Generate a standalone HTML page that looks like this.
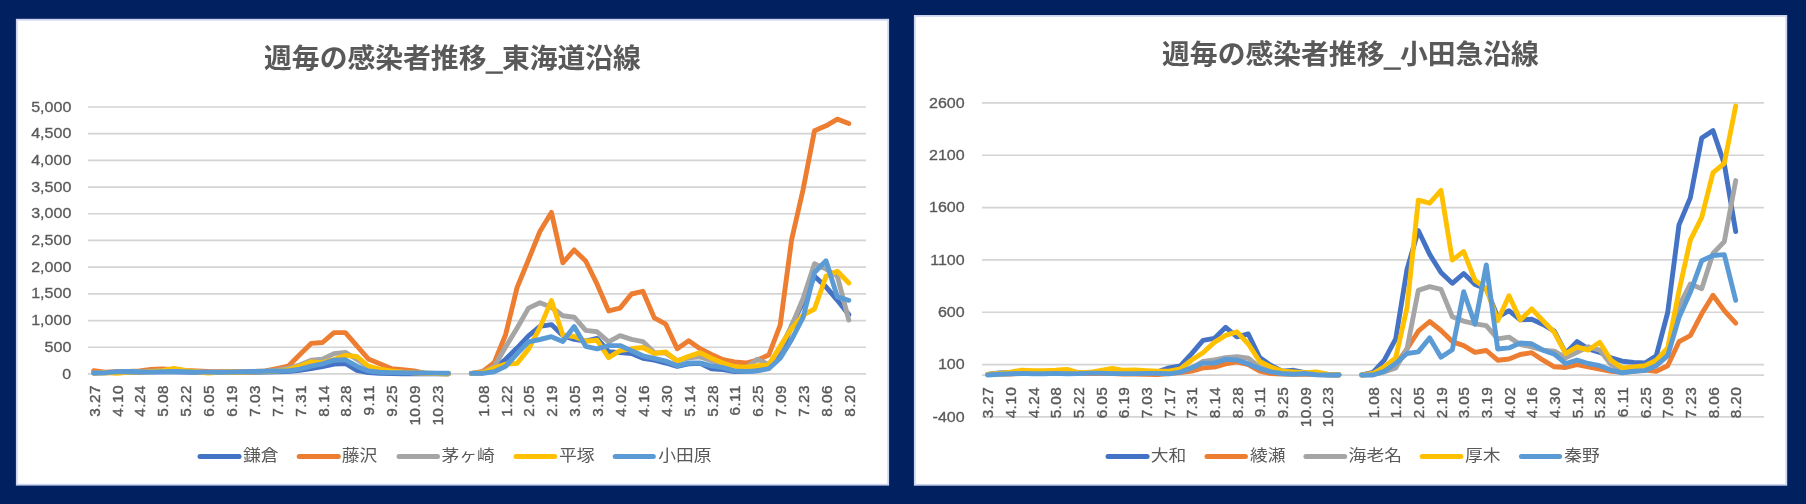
<!DOCTYPE html>
<html lang="ja"><head><meta charset="utf-8"><title>週毎の感染者推移</title>
<style>
html,body{margin:0;padding:0;background:#002060;}
body{width:1806px;height:504px;overflow:hidden;}
svg{display:block;will-change:transform;}
.jp{font-family:"Liberation Sans","Noto Sans CJK JP",sans-serif;}
.num{font-family:"Liberation Sans","Noto Sans CJK JP",sans-serif;}
</style></head><body>
<svg width="1806" height="504" viewBox="0 0 1806 504">
<rect width="1806" height="504" fill="#002060"/>
<rect x="16.80" y="19.70" width="871.40" height="465.00" fill="#fff" stroke="#cdd4ef" stroke-width="1.8"/>
<text x="452.5" y="68" text-anchor="middle" font-size="27.8" font-weight="bold" fill="#595959" class="jp">週毎の感染者推移<tspan dy="1.7" stroke="#595959" stroke-width="1.3">_</tspan><tspan dy="-1.7">東海道沿線</tspan></text>
<line x1="88" x2="866" y1="373.95" y2="373.95" stroke="#D4D4D4" stroke-width="1.7"/>
<line x1="88" x2="866" y1="347.25" y2="347.25" stroke="#D4D4D4" stroke-width="1.7"/>
<line x1="88" x2="866" y1="320.56" y2="320.56" stroke="#D4D4D4" stroke-width="1.7"/>
<line x1="88" x2="866" y1="293.86" y2="293.86" stroke="#D4D4D4" stroke-width="1.7"/>
<line x1="88" x2="866" y1="267.16" y2="267.16" stroke="#D4D4D4" stroke-width="1.7"/>
<line x1="88" x2="866" y1="240.47" y2="240.47" stroke="#D4D4D4" stroke-width="1.7"/>
<line x1="88" x2="866" y1="213.77" y2="213.77" stroke="#D4D4D4" stroke-width="1.7"/>
<line x1="88" x2="866" y1="187.07" y2="187.07" stroke="#D4D4D4" stroke-width="1.7"/>
<line x1="88" x2="866" y1="160.37" y2="160.37" stroke="#D4D4D4" stroke-width="1.7"/>
<line x1="88" x2="866" y1="133.68" y2="133.68" stroke="#D4D4D4" stroke-width="1.7"/>
<line x1="88" x2="866" y1="106.98" y2="106.98" stroke="#D4D4D4" stroke-width="1.7"/>
<text transform="translate(71.3,378.55) scale(1.10,1)" text-anchor="end" font-size="14.6" fill="#595959" stroke="#595959" stroke-width="0.3" class="num">0</text>
<text transform="translate(71.3,351.85) scale(1.10,1)" text-anchor="end" font-size="14.6" fill="#595959" stroke="#595959" stroke-width="0.3" class="num">500</text>
<text transform="translate(71.3,325.16) scale(1.10,1)" text-anchor="end" font-size="14.6" fill="#595959" stroke="#595959" stroke-width="0.3" class="num">1,000</text>
<text transform="translate(71.3,298.46) scale(1.10,1)" text-anchor="end" font-size="14.6" fill="#595959" stroke="#595959" stroke-width="0.3" class="num">1,500</text>
<text transform="translate(71.3,271.76) scale(1.10,1)" text-anchor="end" font-size="14.6" fill="#595959" stroke="#595959" stroke-width="0.3" class="num">2,000</text>
<text transform="translate(71.3,245.06) scale(1.10,1)" text-anchor="end" font-size="14.6" fill="#595959" stroke="#595959" stroke-width="0.3" class="num">2,500</text>
<text transform="translate(71.3,218.37) scale(1.10,1)" text-anchor="end" font-size="14.6" fill="#595959" stroke="#595959" stroke-width="0.3" class="num">3,000</text>
<text transform="translate(71.3,191.67) scale(1.10,1)" text-anchor="end" font-size="14.6" fill="#595959" stroke="#595959" stroke-width="0.3" class="num">3,500</text>
<text transform="translate(71.3,164.97) scale(1.10,1)" text-anchor="end" font-size="14.6" fill="#595959" stroke="#595959" stroke-width="0.3" class="num">4,000</text>
<text transform="translate(71.3,138.28) scale(1.10,1)" text-anchor="end" font-size="14.6" fill="#595959" stroke="#595959" stroke-width="0.3" class="num">4,500</text>
<text transform="translate(71.3,111.58) scale(1.10,1)" text-anchor="end" font-size="14.6" fill="#595959" stroke="#595959" stroke-width="0.3" class="num">5,000</text>
<text transform="translate(99.72,385.1) rotate(-90)" text-anchor="end" font-size="15.4" letter-spacing="0.4" fill="#595959" stroke="#595959" stroke-width="0.4" class="num">3.27</text>
<text transform="translate(122.60,385.1) rotate(-90)" text-anchor="end" font-size="15.4" letter-spacing="0.4" fill="#595959" stroke="#595959" stroke-width="0.4" class="num">4.10</text>
<text transform="translate(145.49,385.1) rotate(-90)" text-anchor="end" font-size="15.4" letter-spacing="0.4" fill="#595959" stroke="#595959" stroke-width="0.4" class="num">4.24</text>
<text transform="translate(168.37,385.1) rotate(-90)" text-anchor="end" font-size="15.4" letter-spacing="0.4" fill="#595959" stroke="#595959" stroke-width="0.4" class="num">5.08</text>
<text transform="translate(191.25,385.1) rotate(-90)" text-anchor="end" font-size="15.4" letter-spacing="0.4" fill="#595959" stroke="#595959" stroke-width="0.4" class="num">5.22</text>
<text transform="translate(214.13,385.1) rotate(-90)" text-anchor="end" font-size="15.4" letter-spacing="0.4" fill="#595959" stroke="#595959" stroke-width="0.4" class="num">6.05</text>
<text transform="translate(237.01,385.1) rotate(-90)" text-anchor="end" font-size="15.4" letter-spacing="0.4" fill="#595959" stroke="#595959" stroke-width="0.4" class="num">6.19</text>
<text transform="translate(259.90,385.1) rotate(-90)" text-anchor="end" font-size="15.4" letter-spacing="0.4" fill="#595959" stroke="#595959" stroke-width="0.4" class="num">7.03</text>
<text transform="translate(282.78,385.1) rotate(-90)" text-anchor="end" font-size="15.4" letter-spacing="0.4" fill="#595959" stroke="#595959" stroke-width="0.4" class="num">7.17</text>
<text transform="translate(305.66,385.1) rotate(-90)" text-anchor="end" font-size="15.4" letter-spacing="0.4" fill="#595959" stroke="#595959" stroke-width="0.4" class="num">7.31</text>
<text transform="translate(328.54,385.1) rotate(-90)" text-anchor="end" font-size="15.4" letter-spacing="0.4" fill="#595959" stroke="#595959" stroke-width="0.4" class="num">8.14</text>
<text transform="translate(351.43,385.1) rotate(-90)" text-anchor="end" font-size="15.4" letter-spacing="0.4" fill="#595959" stroke="#595959" stroke-width="0.4" class="num">8.28</text>
<text transform="translate(374.31,385.1) rotate(-90)" text-anchor="end" font-size="15.4" letter-spacing="0.4" fill="#595959" stroke="#595959" stroke-width="0.4" class="num">9.11</text>
<text transform="translate(397.19,385.1) rotate(-90)" text-anchor="end" font-size="15.4" letter-spacing="0.4" fill="#595959" stroke="#595959" stroke-width="0.4" class="num">9.25</text>
<text transform="translate(420.07,385.1) rotate(-90)" text-anchor="end" font-size="15.4" letter-spacing="0.4" fill="#595959" stroke="#595959" stroke-width="0.4" class="num">10.09</text>
<text transform="translate(442.96,385.1) rotate(-90)" text-anchor="end" font-size="15.4" letter-spacing="0.4" fill="#595959" stroke="#595959" stroke-width="0.4" class="num">10.23</text>
<text transform="translate(488.72,385.1) rotate(-90)" text-anchor="end" font-size="15.4" letter-spacing="0.4" fill="#595959" stroke="#595959" stroke-width="0.4" class="num">1.08</text>
<text transform="translate(511.60,385.1) rotate(-90)" text-anchor="end" font-size="15.4" letter-spacing="0.4" fill="#595959" stroke="#595959" stroke-width="0.4" class="num">1.22</text>
<text transform="translate(534.49,385.1) rotate(-90)" text-anchor="end" font-size="15.4" letter-spacing="0.4" fill="#595959" stroke="#595959" stroke-width="0.4" class="num">2.05</text>
<text transform="translate(557.37,385.1) rotate(-90)" text-anchor="end" font-size="15.4" letter-spacing="0.4" fill="#595959" stroke="#595959" stroke-width="0.4" class="num">2.19</text>
<text transform="translate(580.25,385.1) rotate(-90)" text-anchor="end" font-size="15.4" letter-spacing="0.4" fill="#595959" stroke="#595959" stroke-width="0.4" class="num">3.05</text>
<text transform="translate(603.13,385.1) rotate(-90)" text-anchor="end" font-size="15.4" letter-spacing="0.4" fill="#595959" stroke="#595959" stroke-width="0.4" class="num">3.19</text>
<text transform="translate(626.01,385.1) rotate(-90)" text-anchor="end" font-size="15.4" letter-spacing="0.4" fill="#595959" stroke="#595959" stroke-width="0.4" class="num">4.02</text>
<text transform="translate(648.90,385.1) rotate(-90)" text-anchor="end" font-size="15.4" letter-spacing="0.4" fill="#595959" stroke="#595959" stroke-width="0.4" class="num">4.16</text>
<text transform="translate(671.78,385.1) rotate(-90)" text-anchor="end" font-size="15.4" letter-spacing="0.4" fill="#595959" stroke="#595959" stroke-width="0.4" class="num">4.30</text>
<text transform="translate(694.66,385.1) rotate(-90)" text-anchor="end" font-size="15.4" letter-spacing="0.4" fill="#595959" stroke="#595959" stroke-width="0.4" class="num">5.14</text>
<text transform="translate(717.54,385.1) rotate(-90)" text-anchor="end" font-size="15.4" letter-spacing="0.4" fill="#595959" stroke="#595959" stroke-width="0.4" class="num">5.28</text>
<text transform="translate(740.43,385.1) rotate(-90)" text-anchor="end" font-size="15.4" letter-spacing="0.4" fill="#595959" stroke="#595959" stroke-width="0.4" class="num">6.11</text>
<text transform="translate(763.31,385.1) rotate(-90)" text-anchor="end" font-size="15.4" letter-spacing="0.4" fill="#595959" stroke="#595959" stroke-width="0.4" class="num">6.25</text>
<text transform="translate(786.19,385.1) rotate(-90)" text-anchor="end" font-size="15.4" letter-spacing="0.4" fill="#595959" stroke="#595959" stroke-width="0.4" class="num">7.09</text>
<text transform="translate(809.07,385.1) rotate(-90)" text-anchor="end" font-size="15.4" letter-spacing="0.4" fill="#595959" stroke="#595959" stroke-width="0.4" class="num">7.23</text>
<text transform="translate(831.96,385.1) rotate(-90)" text-anchor="end" font-size="15.4" letter-spacing="0.4" fill="#595959" stroke="#595959" stroke-width="0.4" class="num">8.06</text>
<text transform="translate(854.84,385.1) rotate(-90)" text-anchor="end" font-size="15.4" letter-spacing="0.4" fill="#595959" stroke="#595959" stroke-width="0.4" class="num">8.20</text>
<polyline points="93.7,373.1 105.2,372.9 116.6,372.3 128.0,372.1 139.5,372.3 150.9,371.8 162.4,371.5 173.8,371.8 185.2,372.1 196.7,372.3 208.1,372.6 219.6,372.6 231.0,372.3 242.5,372.3 253.9,372.3 265.3,372.1 276.8,371.8 288.2,371.5 299.7,370.2 311.1,368.6 322.5,366.7 334.0,364.1 345.4,363.5 356.9,370.4 368.3,372.6 379.8,373.3 391.2,373.5 402.6,373.7 414.1,373.7 425.5,373.7 437.0,373.8 448.4,373.8" fill="none" stroke="#4472C4" stroke-width="4.9" stroke-linejoin="round" stroke-linecap="round"/>
<polyline points="471.3,373.4 482.7,373.0 494.2,368.7 505.6,359.3 517.0,348.1 528.5,335.8 539.9,326.4 551.4,324.6 562.8,335.6 574.2,339.4 585.7,341.2 597.1,338.4 608.6,351.6 620.0,352.6 631.5,353.5 642.9,358.3 654.3,360.1 665.8,363.0 677.2,366.4 688.7,363.9 700.1,363.4 711.5,368.7 723.0,369.6 734.4,371.5 745.9,371.5 757.3,370.5 768.8,367.7 780.2,355.3 791.6,325.9 803.1,301.9 814.5,276.3 826.0,286.9 837.4,300.3 848.8,314.6" fill="none" stroke="#4472C4" stroke-width="4.9" stroke-linejoin="round" stroke-linecap="round"/>
<polyline points="93.7,370.7 105.2,372.3 116.6,371.8 128.0,371.5 139.5,371.0 150.9,369.4 162.4,369.0 173.8,369.6 185.2,370.5 196.7,370.9 208.1,371.5 219.6,371.7 231.0,371.7 242.5,371.7 253.9,371.5 265.3,371.0 276.8,368.6 288.2,366.2 299.7,354.7 311.1,343.4 322.5,342.5 334.0,332.6 345.4,332.6 356.9,345.8 368.3,358.9 379.8,363.8 391.2,368.6 402.6,369.7 414.1,371.0 425.5,373.4 437.0,373.5 448.4,373.7" fill="none" stroke="#ED7D31" stroke-width="4.9" stroke-linejoin="round" stroke-linecap="round"/>
<polyline points="471.3,373.4 482.7,371.5 494.2,362.6 505.6,334.7 517.0,287.8 528.5,259.7 539.9,231.5 551.4,212.4 562.8,262.8 574.2,249.9 585.7,261.0 597.1,284.2 608.6,310.9 620.0,308.1 631.5,294.0 642.9,291.3 654.3,317.9 665.8,324.2 677.2,348.8 688.7,340.7 700.1,348.8 711.5,354.5 723.0,359.7 734.4,362.0 745.9,363.0 757.3,360.1 768.8,355.0 780.2,325.1 791.6,239.8 803.1,189.5 814.5,130.8 826.0,125.8 837.4,119.1 848.8,123.5" fill="none" stroke="#ED7D31" stroke-width="4.9" stroke-linejoin="round" stroke-linecap="round"/>
<polyline points="93.7,372.9 105.2,372.9 116.6,372.3 128.0,371.8 139.5,371.8 150.9,371.3 162.4,370.7 173.8,370.7 185.2,371.3 196.7,371.8 208.1,372.3 219.6,372.3 231.0,372.3 242.5,372.1 253.9,371.8 265.3,371.3 276.8,370.2 288.2,368.1 299.7,365.0 311.1,360.2 322.5,359.3 334.0,353.6 345.4,352.4 356.9,359.5 368.3,366.7 379.8,370.4 391.2,371.5 402.6,372.1 414.1,372.9 425.5,373.4 437.0,373.6 448.4,373.7" fill="none" stroke="#A5A5A5" stroke-width="4.9" stroke-linejoin="round" stroke-linecap="round"/>
<polyline points="471.3,373.4 482.7,372.5 494.2,366.5 505.6,347.0 517.0,328.3 528.5,308.1 539.9,302.8 551.4,307.2 562.8,315.7 574.2,317.2 585.7,330.4 597.1,331.8 608.6,341.8 620.0,335.6 631.5,339.4 642.9,341.6 654.3,352.6 665.8,353.1 677.2,360.6 688.7,357.9 700.1,356.9 711.5,360.6 723.0,365.9 734.4,367.5 745.9,367.8 757.3,359.3 768.8,364.6 780.2,348.3 791.6,325.9 803.1,298.5 814.5,263.7 826.0,269.1 837.4,276.3 848.8,320.1" fill="none" stroke="#A5A5A5" stroke-width="4.9" stroke-linejoin="round" stroke-linecap="round"/>
<polyline points="93.7,373.1 105.2,372.6 116.6,373.3 128.0,372.3 139.5,371.9 150.9,371.7 162.4,370.6 173.8,368.3 185.2,370.5 196.7,371.7 208.1,373.1 219.6,372.3 231.0,372.3 242.5,372.1 253.9,371.8 265.3,371.5 276.8,371.0 288.2,369.7 299.7,366.2 311.1,361.9 322.5,362.6 334.0,359.5 345.4,355.4 356.9,356.5 368.3,366.2 379.8,369.1 391.2,371.0 402.6,372.1 414.1,372.9 425.5,373.3 437.0,373.5 448.4,373.7" fill="none" stroke="#FFC000" stroke-width="4.9" stroke-linejoin="round" stroke-linecap="round"/>
<polyline points="471.3,373.4 482.7,372.8 494.2,368.0 505.6,364.1 517.0,363.4 528.5,349.1 539.9,327.6 551.4,300.6 562.8,335.0 574.2,336.5 585.7,341.2 597.1,340.3 608.6,357.7 620.0,350.7 631.5,348.8 642.9,347.5 654.3,353.5 665.8,352.0 677.2,361.1 688.7,356.3 700.1,352.6 711.5,358.3 723.0,363.0 734.4,366.7 745.9,367.1 757.3,365.8 768.8,364.9 780.2,346.2 791.6,328.5 803.1,315.2 814.5,309.0 826.0,276.3 837.4,271.3 848.8,283.0" fill="none" stroke="#FFC000" stroke-width="4.9" stroke-linejoin="round" stroke-linecap="round"/>
<polyline points="93.7,373.0 105.2,372.6 116.6,371.8 128.0,371.5 139.5,371.8 150.9,372.1 162.4,371.8 173.8,371.5 185.2,371.8 196.7,372.1 208.1,372.1 219.6,372.3 231.0,372.1 242.5,371.8 253.9,371.5 265.3,371.3 276.8,371.0 288.2,371.0 299.7,369.1 311.1,366.2 322.5,363.8 334.0,360.2 345.4,359.8 356.9,366.2 368.3,371.0 379.8,372.2 391.2,372.6 402.6,372.8 414.1,372.9 425.5,373.0 437.0,373.1 448.4,373.3" fill="none" stroke="#5B9BD5" stroke-width="4.9" stroke-linejoin="round" stroke-linecap="round"/>
<polyline points="471.3,373.4 482.7,373.4 494.2,371.8 505.6,366.4 517.0,353.8 528.5,341.8 539.9,339.5 551.4,336.7 562.8,341.4 574.2,326.6 585.7,346.3 597.1,348.8 608.6,345.6 620.0,345.6 631.5,350.7 642.9,355.8 654.3,358.3 665.8,361.1 677.2,365.8 688.7,363.0 700.1,363.0 711.5,365.8 723.0,367.7 734.4,370.9 745.9,371.5 757.3,370.9 768.8,368.7 780.2,358.3 791.6,339.6 803.1,317.4 814.5,272.5 826.0,260.8 837.4,296.9 848.8,300.3" fill="none" stroke="#5B9BD5" stroke-width="4.9" stroke-linejoin="round" stroke-linecap="round"/>
<line x1="200.0" x2="239.1" y1="456.4" y2="456.4" stroke="#4472C4" stroke-width="5.0" stroke-linecap="round"/>
<text transform="translate(243.0,460.65) scale(1,0.89)" font-size="17.8" fill="#595959" class="jp">鎌倉</text>
<line x1="299.2" x2="338.3" y1="456.4" y2="456.4" stroke="#ED7D31" stroke-width="5.0" stroke-linecap="round"/>
<text transform="translate(341.7,460.65) scale(1,0.89)" font-size="17.8" fill="#595959" class="jp">藤沢</text>
<line x1="399.0" x2="437.5" y1="456.4" y2="456.4" stroke="#A5A5A5" stroke-width="5.0" stroke-linecap="round"/>
<text transform="translate(441.4,460.65) scale(1,0.89)" font-size="17.8" fill="#595959" class="jp">茅ヶ崎</text>
<line x1="516.0" x2="554.7" y1="456.4" y2="456.4" stroke="#FFC000" stroke-width="5.0" stroke-linecap="round"/>
<text transform="translate(559.0,460.65) scale(1,0.89)" font-size="17.8" fill="#595959" class="jp">平塚</text>
<line x1="615.2" x2="653.3" y1="456.4" y2="456.4" stroke="#5B9BD5" stroke-width="5.0" stroke-linecap="round"/>
<text transform="translate(658.3,460.65) scale(1,0.89)" font-size="17.8" fill="#595959" class="jp">小田原</text>
<rect x="914.80" y="15.90" width="871.50" height="468.90" fill="#fff" stroke="#cdd4ef" stroke-width="1.8"/>
<text x="1350.5" y="64" text-anchor="middle" font-size="27.8" font-weight="bold" fill="#595959" class="jp">週毎の感染者推移<tspan dy="1.7" stroke="#595959" stroke-width="1.3">_</tspan><tspan dy="-1.7">小田急沿線</tspan></text>
<line x1="982" x2="1764" y1="416.90" y2="416.90" stroke="#D4D4D4" stroke-width="1.7"/>
<line x1="982" x2="1764" y1="364.57" y2="364.57" stroke="#D4D4D4" stroke-width="1.7"/>
<line x1="982" x2="1764" y1="312.23" y2="312.23" stroke="#D4D4D4" stroke-width="1.7"/>
<line x1="982" x2="1764" y1="259.90" y2="259.90" stroke="#D4D4D4" stroke-width="1.7"/>
<line x1="982" x2="1764" y1="207.57" y2="207.57" stroke="#D4D4D4" stroke-width="1.7"/>
<line x1="982" x2="1764" y1="155.24" y2="155.24" stroke="#D4D4D4" stroke-width="1.7"/>
<line x1="982" x2="1764" y1="102.90" y2="102.90" stroke="#D4D4D4" stroke-width="1.7"/>
<line x1="982" x2="1764" y1="375.03" y2="375.03" stroke="#D4D4D4" stroke-width="1.7"/>
<text transform="translate(964.7,421.50) scale(1.10,1)" text-anchor="end" font-size="14.6" fill="#595959" stroke="#595959" stroke-width="0.3" class="num">-400</text>
<text transform="translate(964.7,369.17) scale(1.10,1)" text-anchor="end" font-size="14.6" fill="#595959" stroke="#595959" stroke-width="0.3" class="num">100</text>
<text transform="translate(964.7,316.83) scale(1.10,1)" text-anchor="end" font-size="14.6" fill="#595959" stroke="#595959" stroke-width="0.3" class="num">600</text>
<text transform="translate(964.7,264.50) scale(1.10,1)" text-anchor="end" font-size="14.6" fill="#595959" stroke="#595959" stroke-width="0.3" class="num">1100</text>
<text transform="translate(964.7,212.17) scale(1.10,1)" text-anchor="end" font-size="14.6" fill="#595959" stroke="#595959" stroke-width="0.3" class="num">1600</text>
<text transform="translate(964.7,159.84) scale(1.10,1)" text-anchor="end" font-size="14.6" fill="#595959" stroke="#595959" stroke-width="0.3" class="num">2100</text>
<text transform="translate(964.7,107.50) scale(1.10,1)" text-anchor="end" font-size="14.6" fill="#595959" stroke="#595959" stroke-width="0.3" class="num">2600</text>
<text transform="translate(993.37,386.8) rotate(-90)" text-anchor="end" font-size="15.4" letter-spacing="0.4" fill="#595959" stroke="#595959" stroke-width="0.4" class="num">3.27</text>
<text transform="translate(1016.03,386.8) rotate(-90)" text-anchor="end" font-size="15.4" letter-spacing="0.4" fill="#595959" stroke="#595959" stroke-width="0.4" class="num">4.10</text>
<text transform="translate(1038.70,386.8) rotate(-90)" text-anchor="end" font-size="15.4" letter-spacing="0.4" fill="#595959" stroke="#595959" stroke-width="0.4" class="num">4.24</text>
<text transform="translate(1061.37,386.8) rotate(-90)" text-anchor="end" font-size="15.4" letter-spacing="0.4" fill="#595959" stroke="#595959" stroke-width="0.4" class="num">5.08</text>
<text transform="translate(1084.03,386.8) rotate(-90)" text-anchor="end" font-size="15.4" letter-spacing="0.4" fill="#595959" stroke="#595959" stroke-width="0.4" class="num">5.22</text>
<text transform="translate(1106.70,386.8) rotate(-90)" text-anchor="end" font-size="15.4" letter-spacing="0.4" fill="#595959" stroke="#595959" stroke-width="0.4" class="num">6.05</text>
<text transform="translate(1129.37,386.8) rotate(-90)" text-anchor="end" font-size="15.4" letter-spacing="0.4" fill="#595959" stroke="#595959" stroke-width="0.4" class="num">6.19</text>
<text transform="translate(1152.03,386.8) rotate(-90)" text-anchor="end" font-size="15.4" letter-spacing="0.4" fill="#595959" stroke="#595959" stroke-width="0.4" class="num">7.03</text>
<text transform="translate(1174.70,386.8) rotate(-90)" text-anchor="end" font-size="15.4" letter-spacing="0.4" fill="#595959" stroke="#595959" stroke-width="0.4" class="num">7.17</text>
<text transform="translate(1197.37,386.8) rotate(-90)" text-anchor="end" font-size="15.4" letter-spacing="0.4" fill="#595959" stroke="#595959" stroke-width="0.4" class="num">7.31</text>
<text transform="translate(1220.03,386.8) rotate(-90)" text-anchor="end" font-size="15.4" letter-spacing="0.4" fill="#595959" stroke="#595959" stroke-width="0.4" class="num">8.14</text>
<text transform="translate(1242.70,386.8) rotate(-90)" text-anchor="end" font-size="15.4" letter-spacing="0.4" fill="#595959" stroke="#595959" stroke-width="0.4" class="num">8.28</text>
<text transform="translate(1265.37,386.8) rotate(-90)" text-anchor="end" font-size="15.4" letter-spacing="0.4" fill="#595959" stroke="#595959" stroke-width="0.4" class="num">9.11</text>
<text transform="translate(1288.03,386.8) rotate(-90)" text-anchor="end" font-size="15.4" letter-spacing="0.4" fill="#595959" stroke="#595959" stroke-width="0.4" class="num">9.25</text>
<text transform="translate(1310.70,386.8) rotate(-90)" text-anchor="end" font-size="15.4" letter-spacing="0.4" fill="#595959" stroke="#595959" stroke-width="0.4" class="num">10.09</text>
<text transform="translate(1333.37,386.8) rotate(-90)" text-anchor="end" font-size="15.4" letter-spacing="0.4" fill="#595959" stroke="#595959" stroke-width="0.4" class="num">10.23</text>
<text transform="translate(1378.70,386.8) rotate(-90)" text-anchor="end" font-size="15.4" letter-spacing="0.4" fill="#595959" stroke="#595959" stroke-width="0.4" class="num">1.08</text>
<text transform="translate(1401.37,386.8) rotate(-90)" text-anchor="end" font-size="15.4" letter-spacing="0.4" fill="#595959" stroke="#595959" stroke-width="0.4" class="num">1.22</text>
<text transform="translate(1424.03,386.8) rotate(-90)" text-anchor="end" font-size="15.4" letter-spacing="0.4" fill="#595959" stroke="#595959" stroke-width="0.4" class="num">2.05</text>
<text transform="translate(1446.70,386.8) rotate(-90)" text-anchor="end" font-size="15.4" letter-spacing="0.4" fill="#595959" stroke="#595959" stroke-width="0.4" class="num">2.19</text>
<text transform="translate(1469.37,386.8) rotate(-90)" text-anchor="end" font-size="15.4" letter-spacing="0.4" fill="#595959" stroke="#595959" stroke-width="0.4" class="num">3.05</text>
<text transform="translate(1492.03,386.8) rotate(-90)" text-anchor="end" font-size="15.4" letter-spacing="0.4" fill="#595959" stroke="#595959" stroke-width="0.4" class="num">3.19</text>
<text transform="translate(1514.70,386.8) rotate(-90)" text-anchor="end" font-size="15.4" letter-spacing="0.4" fill="#595959" stroke="#595959" stroke-width="0.4" class="num">4.02</text>
<text transform="translate(1537.37,386.8) rotate(-90)" text-anchor="end" font-size="15.4" letter-spacing="0.4" fill="#595959" stroke="#595959" stroke-width="0.4" class="num">4.16</text>
<text transform="translate(1560.03,386.8) rotate(-90)" text-anchor="end" font-size="15.4" letter-spacing="0.4" fill="#595959" stroke="#595959" stroke-width="0.4" class="num">4.30</text>
<text transform="translate(1582.70,386.8) rotate(-90)" text-anchor="end" font-size="15.4" letter-spacing="0.4" fill="#595959" stroke="#595959" stroke-width="0.4" class="num">5.14</text>
<text transform="translate(1605.37,386.8) rotate(-90)" text-anchor="end" font-size="15.4" letter-spacing="0.4" fill="#595959" stroke="#595959" stroke-width="0.4" class="num">5.28</text>
<text transform="translate(1628.03,386.8) rotate(-90)" text-anchor="end" font-size="15.4" letter-spacing="0.4" fill="#595959" stroke="#595959" stroke-width="0.4" class="num">6.11</text>
<text transform="translate(1650.70,386.8) rotate(-90)" text-anchor="end" font-size="15.4" letter-spacing="0.4" fill="#595959" stroke="#595959" stroke-width="0.4" class="num">6.25</text>
<text transform="translate(1673.37,386.8) rotate(-90)" text-anchor="end" font-size="15.4" letter-spacing="0.4" fill="#595959" stroke="#595959" stroke-width="0.4" class="num">7.09</text>
<text transform="translate(1696.03,386.8) rotate(-90)" text-anchor="end" font-size="15.4" letter-spacing="0.4" fill="#595959" stroke="#595959" stroke-width="0.4" class="num">7.23</text>
<text transform="translate(1718.70,386.8) rotate(-90)" text-anchor="end" font-size="15.4" letter-spacing="0.4" fill="#595959" stroke="#595959" stroke-width="0.4" class="num">8.06</text>
<text transform="translate(1741.37,386.8) rotate(-90)" text-anchor="end" font-size="15.4" letter-spacing="0.4" fill="#595959" stroke="#595959" stroke-width="0.4" class="num">8.20</text>
<polyline points="987.7,374.5 999.0,372.9 1010.3,372.4 1021.7,371.9 1033.0,372.4 1044.3,372.4 1055.7,371.9 1067.0,371.9 1078.3,372.4 1089.7,372.4 1101.0,372.4 1112.3,372.4 1123.7,372.4 1135.0,371.9 1146.3,371.9 1157.7,371.9 1169.0,367.9 1180.3,365.8 1191.7,353.6 1203.0,340.4 1214.3,338.4 1225.7,327.3 1237.0,336.8 1248.3,334.0 1259.7,357.6 1271.0,365.5 1282.3,371.1 1293.7,370.3 1305.0,372.6 1316.3,373.5 1327.7,374.7 1339.0,375.0" fill="none" stroke="#4472C4" stroke-width="4.9" stroke-linejoin="round" stroke-linecap="round"/>
<polyline points="1361.7,375.0 1373.0,372.4 1384.3,360.2 1395.7,338.9 1407.0,269.4 1418.3,230.5 1429.7,254.4 1441.0,272.5 1452.3,283.3 1463.7,273.5 1475.0,284.5 1486.3,288.9 1497.7,317.1 1509.0,310.7 1520.3,319.9 1531.7,319.3 1543.0,324.5 1554.3,331.2 1565.7,353.1 1577.0,341.6 1588.3,348.9 1599.7,352.3 1611.0,357.9 1622.3,361.2 1633.7,362.4 1645.0,363.0 1656.3,355.7 1667.7,312.5 1679.0,224.9 1690.3,197.9 1701.7,138.0 1713.0,130.6 1724.3,163.9 1735.7,231.5" fill="none" stroke="#4472C4" stroke-width="4.9" stroke-linejoin="round" stroke-linecap="round"/>
<polyline points="987.7,374.5 999.0,374.0 1010.3,374.0 1021.7,373.5 1033.0,373.5 1044.3,373.5 1055.7,372.9 1067.0,372.9 1078.3,373.5 1089.7,373.5 1101.0,373.5 1112.3,373.5 1123.7,374.0 1135.0,374.0 1146.3,374.2 1157.7,374.5 1169.0,373.5 1180.3,372.6 1191.7,371.1 1203.0,367.9 1214.3,367.1 1225.7,363.9 1237.0,361.9 1248.3,364.7 1259.7,371.1 1271.0,373.5 1282.3,374.0 1293.7,374.2 1305.0,374.0 1316.3,374.5 1327.7,374.7 1339.0,374.8" fill="none" stroke="#ED7D31" stroke-width="4.9" stroke-linejoin="round" stroke-linecap="round"/>
<polyline points="1361.7,375.0 1373.0,373.5 1384.3,370.1 1395.7,364.6 1407.0,349.0 1418.3,331.2 1429.7,321.5 1441.0,330.5 1452.3,341.6 1463.7,345.6 1475.0,352.3 1486.3,350.5 1497.7,360.2 1509.0,359.0 1520.3,354.5 1531.7,352.7 1543.0,360.2 1554.3,366.8 1565.7,367.5 1577.0,364.6 1588.3,366.8 1599.7,369.1 1611.0,371.3 1622.3,372.3 1633.7,371.3 1645.0,370.1 1656.3,371.3 1667.7,365.7 1679.0,341.7 1690.3,335.6 1701.7,313.8 1713.0,295.3 1724.3,310.6 1735.7,323.2" fill="none" stroke="#ED7D31" stroke-width="4.9" stroke-linejoin="round" stroke-linecap="round"/>
<polyline points="987.7,374.5 999.0,373.5 1010.3,372.9 1021.7,372.9 1033.0,372.9 1044.3,372.9 1055.7,372.4 1067.0,372.4 1078.3,372.9 1089.7,372.9 1101.0,372.9 1112.3,372.4 1123.7,372.9 1135.0,372.9 1146.3,372.9 1157.7,372.9 1169.0,372.4 1180.3,371.1 1191.7,367.9 1203.0,361.5 1214.3,360.0 1225.7,357.6 1237.0,356.7 1248.3,358.3 1259.7,367.1 1271.0,371.1 1282.3,372.9 1293.7,372.4 1305.0,372.9 1316.3,374.0 1327.7,374.5 1339.0,374.7" fill="none" stroke="#A5A5A5" stroke-width="4.9" stroke-linejoin="round" stroke-linecap="round"/>
<polyline points="1361.7,375.0 1373.0,374.6 1384.3,371.9 1395.7,367.9 1407.0,349.0 1418.3,290.4 1429.7,286.6 1441.0,289.4 1452.3,316.7 1463.7,321.1 1475.0,323.8 1486.3,325.6 1497.7,338.9 1509.0,337.1 1520.3,344.5 1531.7,346.8 1543.0,350.1 1554.3,351.2 1565.7,357.9 1577.0,352.3 1588.3,346.8 1599.7,350.1 1611.0,364.6 1622.3,370.1 1633.7,369.1 1645.0,367.9 1656.3,364.6 1667.7,349.0 1679.0,306.0 1690.3,284.1 1701.7,288.7 1713.0,253.5 1724.3,241.6 1735.7,180.6" fill="none" stroke="#A5A5A5" stroke-width="4.9" stroke-linejoin="round" stroke-linecap="round"/>
<polyline points="987.7,374.5 999.0,373.5 1010.3,372.1 1021.7,370.2 1033.0,370.8 1044.3,370.6 1055.7,370.3 1067.0,369.4 1078.3,372.7 1089.7,372.3 1101.0,370.4 1112.3,368.5 1123.7,370.3 1135.0,370.0 1146.3,370.6 1157.7,371.3 1169.0,371.1 1180.3,369.0 1191.7,360.0 1203.0,352.7 1214.3,342.4 1225.7,335.3 1237.0,331.8 1248.3,344.0 1259.7,361.5 1271.0,367.1 1282.3,371.1 1293.7,371.9 1305.0,372.6 1316.3,371.9 1327.7,374.2 1339.0,374.7" fill="none" stroke="#FFC000" stroke-width="4.9" stroke-linejoin="round" stroke-linecap="round"/>
<polyline points="1361.7,375.0 1373.0,373.5 1384.3,366.8 1395.7,357.9 1407.0,307.8 1418.3,200.2 1429.7,203.1 1441.0,190.4 1452.3,260.1 1463.7,251.5 1475.0,280.3 1486.3,288.6 1497.7,320.8 1509.0,295.7 1520.3,319.9 1531.7,308.9 1543.0,320.8 1554.3,332.3 1565.7,353.5 1577.0,346.8 1588.3,350.1 1599.7,342.3 1611.0,360.2 1622.3,367.9 1633.7,366.9 1645.0,365.7 1656.3,360.2 1667.7,347.9 1679.0,291.1 1690.3,240.1 1701.7,217.3 1713.0,172.6 1724.3,163.3 1735.7,105.9" fill="none" stroke="#FFC000" stroke-width="4.9" stroke-linejoin="round" stroke-linecap="round"/>
<polyline points="987.7,375.0 999.0,374.2 1010.3,373.8 1021.7,373.4 1033.0,373.8 1044.3,373.8 1055.7,373.4 1067.0,373.8 1078.3,373.6 1089.7,373.1 1101.0,373.1 1112.3,373.6 1123.7,373.6 1135.0,373.6 1146.3,373.4 1157.7,373.4 1169.0,373.8 1180.3,372.1 1191.7,367.9 1203.0,363.1 1214.3,363.1 1225.7,359.4 1237.0,360.0 1248.3,363.9 1259.7,368.6 1271.0,371.9 1282.3,373.5 1293.7,374.2 1305.0,373.5 1316.3,374.7 1327.7,375.0 1339.0,375.0" fill="none" stroke="#5B9BD5" stroke-width="4.9" stroke-linejoin="round" stroke-linecap="round"/>
<polyline points="1361.7,375.0 1373.0,375.0 1384.3,371.3 1395.7,363.5 1407.0,353.5 1418.3,351.9 1429.7,337.9 1441.0,357.2 1452.3,349.7 1463.7,291.7 1475.0,324.3 1486.3,264.9 1497.7,349.0 1509.0,347.9 1520.3,343.0 1531.7,343.8 1543.0,350.1 1554.3,354.1 1565.7,363.5 1577.0,360.2 1588.3,363.5 1599.7,365.7 1611.0,370.1 1622.3,372.8 1633.7,371.3 1645.0,370.6 1656.3,365.7 1667.7,355.7 1679.0,317.5 1690.3,292.3 1701.7,260.8 1713.0,255.5 1724.3,254.6 1735.7,300.3" fill="none" stroke="#5B9BD5" stroke-width="4.9" stroke-linejoin="round" stroke-linecap="round"/>
<line x1="1108.0" x2="1147.1" y1="456.4" y2="456.4" stroke="#4472C4" stroke-width="5.0" stroke-linecap="round"/>
<text transform="translate(1150.8,460.65) scale(1,0.89)" font-size="17.8" fill="#595959" class="jp">大和</text>
<line x1="1207.0" x2="1245.4" y1="456.4" y2="456.4" stroke="#ED7D31" stroke-width="5.0" stroke-linecap="round"/>
<text transform="translate(1250.0,460.65) scale(1,0.89)" font-size="17.8" fill="#595959" class="jp">綾瀬</text>
<line x1="1305.9" x2="1344.7" y1="456.4" y2="456.4" stroke="#A5A5A5" stroke-width="5.0" stroke-linecap="round"/>
<text transform="translate(1348.6,460.65) scale(1,0.89)" font-size="17.8" fill="#595959" class="jp">海老名</text>
<line x1="1422.2" x2="1460.9" y1="456.4" y2="456.4" stroke="#FFC000" stroke-width="5.0" stroke-linecap="round"/>
<text transform="translate(1465.0,460.65) scale(1,0.89)" font-size="17.8" fill="#595959" class="jp">厚木</text>
<line x1="1521.4" x2="1559.6" y1="456.4" y2="456.4" stroke="#5B9BD5" stroke-width="5.0" stroke-linecap="round"/>
<text transform="translate(1564.2,460.65) scale(1,0.89)" font-size="17.8" fill="#595959" class="jp">秦野</text>
</svg>
</body></html>
